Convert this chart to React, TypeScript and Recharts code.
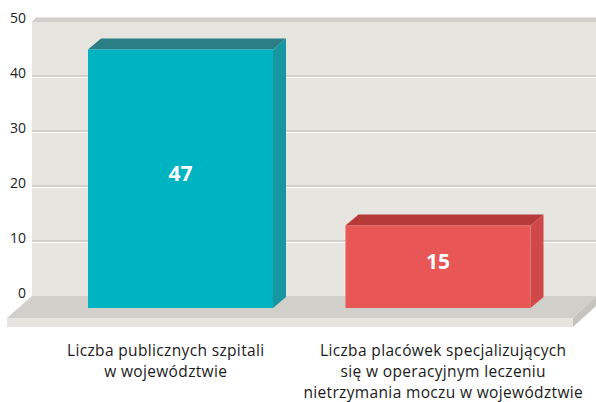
import { Bar, BarChart, CartesianGrid, LabelList, XAxis, YAxis } from "recharts";

const categories = [
  "Liczba publicznych szpitali\nw województwie",
  "Liczba placówek specjalizujących\nsię w operacyjnym leczeniu\nnietrzymania moczu w województwie",
];
const values = [47, 15];
const yTicks = [0, 10, 20, 30, 40, 50];

const frontColors = ["#00b3c1", "#e85656"];
const topColors = ["#2b7e86", "#b73a3a"];
const sideColors = ["#1797a2", "#d04848"];
const labelShift = [-15, 5];

const data = categories.map((name, i) => ({ name, value: values[i] }));

const FONT = "'Open Sans', sans-serif";
const DEPTH_X = 13;
const DEPTH_Y = 11;
const DROP = 12;

// 3d box: front face + top + right side
function Box(props: any) {
  const { x, y, width, height, index } = props;
  const top = y + DROP;
  const bottom = y + height + DROP;
  const right = x + width;
  return (
    <g>
      <polygon
        points={`${x},${top} ${x + DEPTH_X},${top - DEPTH_Y} ${right + DEPTH_X},${top - DEPTH_Y} ${right},${top}`}
        fill={topColors[index]}
      />
      <polygon
        points={`${right},${top} ${right + DEPTH_X},${top - DEPTH_Y} ${right + DEPTH_X},${bottom - DEPTH_Y} ${right},${bottom}`}
        fill={sideColors[index]}
      />
      <rect x={x} y={top} width={width} height={height} fill={frontColors[index]} />
    </g>
  );
}

// index 0 is the zero line (floor), last one is the top edge of the wall
function GridLine(props: any) {
  const { x1, x2, y1, index } = props;
  const y = y1;
  if (index === 0) {
    const fx1 = x1 - 25;
    const fx2 = x2 - 23;
    return (
      <g>
        <polygon points={`${x1},${y} ${x2},${y} ${fx2},${y + 22} ${fx1},${y + 22}`} fill="#d0cfca" />
        <rect x={fx1} y={y + 22} width={fx2 - fx1} height={9} fill="#e6e5e0" />
        <polygon points={`${fx2},${y + 22} ${x2},${y} ${x2},${y + 10} ${fx2},${y + 31}`} fill="#c5c4bf" />
      </g>
    );
  }
  if (index === yTicks.length - 1) {
    return (
      <polygon
        points={`${x1},${y + 1} ${x1 + 4},${y - 3.5} ${x2},${y - 3.5} ${x2},${y + 1}`}
        fill="#d0cfca"
      />
    );
  }
  return (
    <g>
      <line x1={x1} x2={x2} y1={y} y2={y} stroke="#c9c8c3" strokeWidth={1.5} />
      <line x1={x1} x2={x2} y1={y + 1.5} y2={y + 1.5} stroke="#ffffff" strokeWidth={1} />
    </g>
  );
}

function ValueTick(props: any) {
  const { x, y, payload } = props;
  return (
    <text x={x} y={y - 3} dy="0.355em" textAnchor="end" fontSize={14} fill="#222" fontFamily={FONT}>
      {payload.value}
    </text>
  );
}

function CategoryTick(props: any) {
  const { x, payload, index } = props;
  const lines = String(payload.value).split("\n");
  const cx = x + labelShift[index];
  return (
    <text
      x={cx}
      y={356}
      textAnchor="middle"
      fontSize={15.5}
      letterSpacing={0.35}
      fill="#1a1a1a"
      fontFamily={FONT}
    >
      {lines.map((l, i) => (
        <tspan key={i} x={cx} dy={i === 0 ? 0 : 21.2}>
          {l}
        </tspan>
      ))}
    </text>
  );
}

function ValueLabel(props: any) {
  const vb = props.viewBox ?? props;
  const { x, y, width, height } = vb;
  return (
    <text
      x={x + width / 2}
      y={y + height / 2 + DROP / 2}
      textAnchor="middle"
      dominantBaseline="central"
      fontSize={21}
      fontWeight={700}
      fill="#ffffff"
      fontFamily={FONT}
    >
      {props.value}
    </text>
  );
}

export default function App() {
  return (
    <div style={{ position: "absolute", left: 0, top: 0 }}>
      <BarChart width={596} height={402} data={data} margin={{ top: 21, right: 0, bottom: 0, left: 0 }}>
        <CartesianGrid vertical={false} fill="#e6e5e0" horizontal={GridLine as any} />
        <XAxis
          dataKey="name"
          axisLine={false}
          tickLine={false}
          tickSize={0}
          height={106}
          interval={0}
          padding={{ left: 20, right: 29 }}
          tick={CategoryTick as any}
        />
        <YAxis
          domain={[0, 50]}
          ticks={yTicks}
          width={32}
          axisLine={false}
          tickLine={false}
          tickSize={0}
          tickMargin={6}
          tick={ValueTick as any}
        />
        <Bar dataKey="value" barSize={185} shape={Box as any} isAnimationActive={false}>
          <LabelList dataKey="value" content={ValueLabel as any} />
        </Bar>
      </BarChart>
    </div>
  );
}
